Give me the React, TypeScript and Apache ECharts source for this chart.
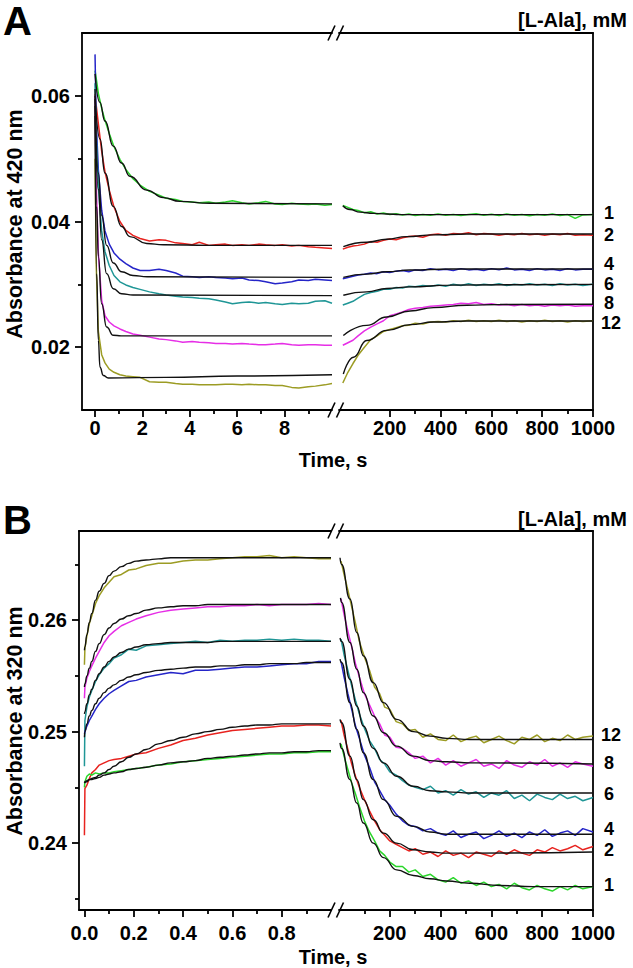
import React, { useEffect, useRef } from "react";
import * as echarts from "echarts";

// ---------- colours ----------
const C_GREEN = "#2bd62b";
const C_RED = "#e8231f";
const C_BLUE = "#2525c8";
const C_TEAL = "#1f9696";
const C_MAG = "#e62ee6";
const C_OLIVE = "#9c9c24";
const C_FIT = "#111111";

// ---------- panel A, left segment (0–10 s) ----------
const tAL = [0, 0.05, 0.14, 0.28, 0.42, 0.6, 0.8, 1.05, 1.3, 1.6, 1.9, 2.3, 2.7, 3.0, 3.4, 3.7, 4.1, 4.4, 4.8, 5.1, 5.5, 5.8, 6.2, 6.5, 6.9, 7.2, 7.6, 7.9, 8.3, 8.6, 9.0, 9.3, 9.7, 10.0];
const aL_green = [0.064, 0.0628, 0.0604, 0.058, 0.0561, 0.054, 0.0519, 0.0499, 0.0483, 0.0468, 0.0458, 0.0448, 0.0442, 0.0437, 0.0435, 0.0432, 0.0431, 0.043, 0.0431, 0.0429, 0.0431, 0.0433, 0.043, 0.0428, 0.043, 0.0432, 0.0428, 0.0427, 0.0429, 0.0428, 0.0427, 0.0428, 0.0426, 0.0427];
const aL_red = [0.0603, 0.0585, 0.0556, 0.0512, 0.0479, 0.045, 0.0423, 0.04, 0.0386, 0.0378, 0.0373, 0.0369, 0.0371, 0.037, 0.0366, 0.0365, 0.0363, 0.0367, 0.0362, 0.0363, 0.0364, 0.0362, 0.0363, 0.0362, 0.0364, 0.0363, 0.0362, 0.0363, 0.0361, 0.0362, 0.036, 0.0359, 0.0358, 0.0357];
const aL_blue = [0.0666, 0.056, 0.0482, 0.0418, 0.0385, 0.0364, 0.035, 0.034, 0.0333, 0.0326, 0.0322, 0.0322, 0.0324, 0.0322, 0.0318, 0.0313, 0.0312, 0.0311, 0.0312, 0.0311, 0.031, 0.0309, 0.031, 0.0307, 0.0306, 0.0304, 0.0301, 0.0302, 0.0304, 0.0307, 0.0306, 0.0308, 0.0307, 0.0306];
const aL_teal = [0.062, 0.054, 0.0455, 0.0385, 0.0352, 0.033, 0.0314, 0.0304, 0.0299, 0.0295, 0.0292, 0.0288, 0.0285, 0.0283, 0.0281, 0.028, 0.0279, 0.0278, 0.0277, 0.0275, 0.0272, 0.0269, 0.0271, 0.0272, 0.027, 0.0271, 0.0269, 0.0268, 0.027, 0.0269, 0.027, 0.0273, 0.0274, 0.027];
const aL_mag = [0.06, 0.046, 0.035, 0.0275, 0.025, 0.024, 0.0234, 0.0229, 0.0225, 0.0221, 0.0219, 0.0216, 0.0213, 0.0212, 0.021, 0.0208, 0.0209, 0.0208, 0.0207, 0.0206, 0.0206, 0.0205, 0.0206, 0.0205, 0.0204, 0.0204, 0.0205, 0.0206, 0.0204, 0.0203, 0.0204, 0.0204, 0.0203, 0.0203];
const aL_olive = [0.05, 0.033, 0.0225, 0.0188, 0.0175, 0.0165, 0.016, 0.0156, 0.0154, 0.0153, 0.0152, 0.0145, 0.0144, 0.0144, 0.0142, 0.0141, 0.0141, 0.014, 0.014, 0.014, 0.0141, 0.0141, 0.014, 0.0141, 0.014, 0.014, 0.0139, 0.0139, 0.0136, 0.0135, 0.0137, 0.0138, 0.014, 0.0142];

const fitAL_green = [[0, 0.0635], [0.2, 0.059], [0.42, 0.056], [0.77, 0.052], [1.12, 0.0493], [1.47, 0.0472], [2.18, 0.045], [2.88, 0.0438], [3.58, 0.0432], [4.84, 0.0429], [10, 0.0428]];
const fitAL_red = [[0, 0.06], [0.21, 0.0531], [0.42, 0.0477], [0.77, 0.0424], [1.12, 0.0392], [1.47, 0.0376], [2.18, 0.0365], [2.88, 0.0363], [4.84, 0.0362], [10, 0.0362]];
const fitAL_blue = [[0, 0.0611], [0.14, 0.0477], [0.28, 0.041], [0.49, 0.0362], [0.77, 0.0334], [1.12, 0.032], [1.6, 0.0314], [2.2, 0.0312], [10, 0.0311]];
const fitAL_teal = [[0, 0.0584], [0.14, 0.0451], [0.28, 0.0371], [0.49, 0.0317], [0.77, 0.0293], [1.12, 0.0285], [1.6, 0.0283], [10, 0.0282]];
const fitAL_mag = [[0, 0.0595], [0.07, 0.0424], [0.14, 0.0344], [0.28, 0.0269], [0.49, 0.0232], [0.77, 0.0219], [1.1, 0.0218], [10, 0.0218]];
const fitAL_olive = [[0, 0.0568], [0.07, 0.0317], [0.14, 0.0211], [0.21, 0.0168], [0.35, 0.0155], [0.56, 0.0151], [3, 0.0152], [6, 0.0154], [10, 0.0156]];

// ---------- panel A, right segment (s) ----------
const tAR = [15, 35, 55, 75, 100, 125, 150, 175, 200, 225, 250, 275, 300, 330, 360, 390, 420, 450, 480, 510, 540, 570, 600, 630, 660, 690, 720, 750, 780, 810, 840, 870, 900, 930, 960, 1000];
const aR_green = [0.04255, 0.04225, 0.0419, 0.04175, 0.0414, 0.04155, 0.0412, 0.04135, 0.0411, 0.04125, 0.04105, 0.0412, 0.04095, 0.0411, 0.041, 0.04118, 0.04098, 0.04112, 0.04095, 0.0411, 0.04122, 0.041, 0.04115, 0.04095, 0.0412, 0.041, 0.04112, 0.04092, 0.0411, 0.04098, 0.04118, 0.04095, 0.0411, 0.0405, 0.04105, 0.0411];
const aR_red = [0.0356, 0.0359, 0.0361, 0.0362, 0.0364, 0.0368, 0.0367, 0.037, 0.0372, 0.0371, 0.0374, 0.0376, 0.0377, 0.0375, 0.0379, 0.038, 0.0378, 0.0381, 0.038, 0.0382, 0.0379, 0.0381, 0.038, 0.0378, 0.038, 0.0379, 0.0381, 0.0379, 0.038, 0.0378, 0.038, 0.0379, 0.0381, 0.0378, 0.0379, 0.0378];
const aR_blue = [0.0309, 0.0311, 0.0313, 0.0315, 0.0316, 0.0318, 0.0317, 0.032, 0.0319, 0.0321, 0.0322, 0.032, 0.0323, 0.0322, 0.0325, 0.0323, 0.0324, 0.0322, 0.0325, 0.0323, 0.0324, 0.0322, 0.0325, 0.0323, 0.0326, 0.0323, 0.0324, 0.0322, 0.0325, 0.0323, 0.0324, 0.0322, 0.0325, 0.0323, 0.0324, 0.0324];
const aR_teal = [0.0267, 0.027, 0.0273, 0.0278, 0.0284, 0.0287, 0.0289, 0.0292, 0.0292, 0.0295, 0.0294, 0.0297, 0.0296, 0.0298, 0.0297, 0.0299, 0.0297, 0.03, 0.0298, 0.0301, 0.0298, 0.03, 0.0299, 0.0301, 0.0298, 0.03, 0.0299, 0.0301, 0.0299, 0.03, 0.0298, 0.0301, 0.0299, 0.03, 0.0298, 0.03];
const aR_mag = [0.0203, 0.0207, 0.0211, 0.0218, 0.0226, 0.0232, 0.0237, 0.0242, 0.025, 0.0253, 0.0256, 0.026, 0.0262, 0.0263, 0.0265, 0.0266, 0.0267, 0.0268, 0.027, 0.0269, 0.0271, 0.0268, 0.0269, 0.0267, 0.0268, 0.0266, 0.0268, 0.0266, 0.0267, 0.0265, 0.0267, 0.0266, 0.0267, 0.0265, 0.0266, 0.0266];
const aR_olive = [0.0143, 0.016, 0.0174, 0.0187, 0.02, 0.0212, 0.0218, 0.0225, 0.0228, 0.0231, 0.0234, 0.0235, 0.0238, 0.0237, 0.024, 0.0241, 0.024, 0.0242, 0.0241, 0.0243, 0.0241, 0.0242, 0.0241, 0.0243, 0.0241, 0.0242, 0.024, 0.0242, 0.0241, 0.0243, 0.0241, 0.0242, 0.024, 0.0242, 0.0241, 0.0242];

const fitAR_green = [[15, 0.0425], [43, 0.0419], [83, 0.0415], [135, 0.0413], [188, 0.0412], [240, 0.0411], [1000, 0.0411]];
const fitAR_red = [[17, 0.036], [109, 0.0367], [188, 0.03718], [266, 0.0376], [372, 0.03787], [503, 0.038], [1000, 0.038]];
const fitAR_blue = [[17, 0.0311], [109, 0.03163], [188, 0.032], [280, 0.03227], [437, 0.03243], [1000, 0.03245]];
const fitAR_teal = [[17, 0.02827], [109, 0.0288], [188, 0.02934], [280, 0.0296], [437, 0.02987], [1000, 0.03]];
const fitAR_mag = [[17, 0.02187], [109, 0.02347], [188, 0.0248], [280, 0.02576], [372, 0.0263], [503, 0.02667], [634, 0.02678], [1000, 0.02683]];
const fitAR_olive = [[17, 0.01574], [57, 0.0184], [109, 0.02107], [188, 0.02267], [280, 0.02358], [372, 0.024], [503, 0.02416], [1000, 0.02416]];

// ---------- panel B, left segment (0–1 s) ----------
const tBL = [0, 0.002, 0.01, 0.02, 0.03, 0.045, 0.06, 0.08, 0.1, 0.12, 0.15, 0.18, 0.21, 0.25, 0.3, 0.35, 0.4, 0.45, 0.5, 0.55, 0.6, 0.65, 0.7, 0.75, 0.8, 0.85, 0.9, 0.95, 1.0];
const bL_olive = [0.256, 0.2575, 0.2586, 0.2597, 0.2604, 0.2615, 0.2622, 0.2629, 0.2634, 0.2639, 0.2641, 0.2645, 0.2646, 0.2649, 0.2651, 0.2651, 0.2653, 0.2654, 0.2654, 0.2655, 0.2656, 0.2657, 0.2657, 0.2658, 0.2656, 0.2657, 0.2656, 0.2655, 0.2655];
const bL_mag = [0.253, 0.254, 0.2548, 0.2554, 0.2559, 0.2566, 0.2572, 0.258, 0.2586, 0.259, 0.2595, 0.2598, 0.2601, 0.2604, 0.2607, 0.2609, 0.261, 0.2611, 0.2612, 0.2612, 0.2613, 0.2613, 0.2614, 0.2613, 0.2614, 0.2614, 0.2614, 0.2615, 0.2614];
const bL_teal = [0.2469, 0.251, 0.2522, 0.2531, 0.2537, 0.2545, 0.2551, 0.2557, 0.2561, 0.2566, 0.2569, 0.2574, 0.2573, 0.2577, 0.2578, 0.2579, 0.258, 0.2581, 0.258, 0.2582, 0.2581, 0.2582, 0.2582, 0.2583, 0.2582, 0.2583, 0.2582, 0.2582, 0.2581];
const bL_blue = [0.2498, 0.25, 0.2505, 0.251, 0.2514, 0.252, 0.2525, 0.253, 0.2534, 0.2537, 0.2541, 0.2545, 0.2546, 0.2549, 0.2551, 0.2553, 0.2552, 0.2555, 0.2555, 0.2556, 0.2557, 0.2558, 0.2558, 0.2559, 0.256, 0.2561, 0.2561, 0.2563, 0.2563];
const bL_red = [0.2407, 0.2449, 0.2452, 0.2458, 0.2463, 0.2466, 0.247, 0.2472, 0.2474, 0.2475, 0.2476, 0.2478, 0.248, 0.2481, 0.2485, 0.2488, 0.2492, 0.2494, 0.2497, 0.2499, 0.2501, 0.2502, 0.2503, 0.2504, 0.2505, 0.2505, 0.2506, 0.2506, 0.2505];
const bL_green = [0.245, 0.2455, 0.246, 0.2462, 0.2461, 0.2463, 0.2462, 0.2463, 0.2463, 0.2464, 0.2465, 0.2466, 0.2467, 0.2468, 0.247, 0.2471, 0.2473, 0.2474, 0.2475, 0.2476, 0.2477, 0.2478, 0.2479, 0.248, 0.248, 0.2481, 0.2481, 0.2482, 0.2482];

const fitBL_olive = [0.2573, 0.2576, 0.2587, 0.2598, 0.2606, 0.2618, 0.2626, 0.2633, 0.264, 0.2644, 0.2648, 0.2651, 0.2653, 0.2654, 0.2655, 0.2656, 0.2656, 0.2656, 0.2656, 0.2656, 0.2656, 0.2656, 0.2656, 0.2656, 0.2656, 0.2656, 0.2656, 0.2656, 0.2656];
const fitBL_mag = [0.254, 0.2543, 0.255, 0.2557, 0.2563, 0.2572, 0.2579, 0.2587, 0.2593, 0.2597, 0.2601, 0.2604, 0.2606, 0.2609, 0.2611, 0.2612, 0.2613, 0.2613, 0.2614, 0.2614, 0.2614, 0.2614, 0.2614, 0.2614, 0.2614, 0.2614, 0.2614, 0.2614, 0.2614];
const fitBL_teal = [0.2516, 0.2518, 0.2525, 0.2533, 0.2538, 0.2546, 0.2552, 0.2558, 0.2563, 0.2567, 0.2571, 0.2574, 0.2576, 0.2578, 0.2579, 0.258, 0.258, 0.258, 0.258, 0.2581, 0.2581, 0.2581, 0.2581, 0.2581, 0.2581, 0.2581, 0.2581, 0.2581, 0.2581];
const fitBL_blue = [0.2495, 0.25, 0.2507, 0.2514, 0.2519, 0.2525, 0.253, 0.2535, 0.2539, 0.2542, 0.2546, 0.2549, 0.2551, 0.2553, 0.2555, 0.2556, 0.2557, 0.2558, 0.2558, 0.2559, 0.2559, 0.256, 0.256, 0.2561, 0.2561, 0.2561, 0.2562, 0.2562, 0.2562];
const fitBL_red = [0.2454, 0.2454, 0.2455, 0.2457, 0.2458, 0.2459, 0.2461, 0.2463, 0.2466, 0.2469, 0.2473, 0.2477, 0.248, 0.2484, 0.2489, 0.2492, 0.2495, 0.2498, 0.25, 0.2502, 0.2504, 0.2505, 0.2506, 0.2506, 0.2507, 0.2507, 0.2507, 0.2507, 0.2507];
const fitBL_green = [0.2454, 0.2455, 0.2456, 0.2457, 0.2457, 0.2458, 0.2459, 0.2461, 0.2462, 0.2463, 0.2464, 0.2466, 0.2467, 0.2468, 0.247, 0.2472, 0.2473, 0.2474, 0.2476, 0.2477, 0.2478, 0.2479, 0.248, 0.2481, 0.2481, 0.2482, 0.2482, 0.2483, 0.2483];

// ---------- panel B, right segment (s) ----------
const tBR = [8, 20, 35, 50, 65, 80, 100, 120, 140, 160, 180, 200, 225, 250, 275, 300, 330, 360, 390, 420, 450, 480, 510, 540, 570, 600, 630, 660, 690, 720, 750, 780, 810, 840, 870, 900, 930, 960, 1000];
const bR_olive = [0.2653, 0.2641, 0.2627, 0.2612, 0.2597, 0.2581, 0.2567, 0.2555, 0.254, 0.2534, 0.2522, 0.252, 0.2509, 0.2507, 0.2501, 0.2502, 0.2495, 0.2498, 0.2493, 0.2492, 0.2497, 0.2491, 0.2494, 0.2496, 0.249, 0.2493, 0.2496, 0.2492, 0.2489, 0.2495, 0.2493, 0.2497, 0.2491, 0.2494, 0.2492, 0.2497, 0.2493, 0.2495, 0.2496];
const bR_mag = [0.2619, 0.2605, 0.259, 0.2576, 0.2561, 0.2549, 0.2534, 0.2524, 0.2514, 0.2507, 0.2497, 0.2495, 0.2486, 0.2485, 0.2481, 0.2476, 0.2478, 0.2472, 0.2476, 0.247, 0.2474, 0.2469, 0.2472, 0.2475, 0.2469, 0.2471, 0.2467, 0.2474, 0.247, 0.2468, 0.2473, 0.247, 0.2475, 0.2469, 0.2472, 0.2468, 0.2473, 0.2471, 0.2469];
const bR_teal = [0.2583, 0.2569, 0.2555, 0.2541, 0.2528, 0.2516, 0.2503, 0.2492, 0.2485, 0.2475, 0.2471, 0.2464, 0.2461, 0.2456, 0.2452, 0.245, 0.2448, 0.2451, 0.2445, 0.2447, 0.2443, 0.2448, 0.2444, 0.2446, 0.2441, 0.2445, 0.2443, 0.2447, 0.244, 0.2443, 0.2438, 0.2444, 0.2441, 0.2439, 0.2444, 0.244, 0.2442, 0.2438, 0.2441];
const bR_blue = [0.2563, 0.2549, 0.2534, 0.252, 0.2505, 0.2494, 0.2479, 0.2468, 0.2455, 0.2447, 0.2439, 0.2434, 0.2426, 0.242, 0.2416, 0.2415, 0.2411, 0.2413, 0.2409, 0.2407, 0.2411, 0.2405, 0.2408, 0.241, 0.2404, 0.2407, 0.2411, 0.2406, 0.2409, 0.2405, 0.241, 0.2407, 0.2412, 0.2406, 0.2409, 0.2411, 0.2407, 0.2413, 0.241];
const bR_red = [0.251, 0.2497, 0.2484, 0.2471, 0.246, 0.245, 0.2439, 0.2429, 0.242, 0.2412, 0.2407, 0.2402, 0.2399, 0.2396, 0.2393, 0.2395, 0.239, 0.2392, 0.2388, 0.2393, 0.2389, 0.2391, 0.2387, 0.2392, 0.239, 0.2388, 0.2393, 0.239, 0.2394, 0.2391, 0.2389, 0.2394, 0.2392, 0.2396, 0.2393, 0.2395, 0.2398, 0.2394, 0.2397];
const bR_green = [0.2489, 0.2478, 0.2466, 0.2454, 0.2444, 0.2433, 0.242, 0.241, 0.2402, 0.2393, 0.2389, 0.2383, 0.2379, 0.2379, 0.2374, 0.2376, 0.237, 0.2372, 0.2367, 0.2365, 0.2369, 0.2364, 0.2366, 0.2362, 0.2365, 0.2361, 0.2363, 0.2359, 0.2364, 0.236, 0.2358, 0.2362, 0.2359, 0.2357, 0.2361, 0.2358, 0.2362, 0.2359, 0.2361];

const fitBR_olive = [[4, 0.2656], [10, 0.265], [43, 0.2619], [70, 0.2589], [96, 0.2568], [135, 0.2544], [175, 0.2526], [227, 0.2511], [293, 0.25], [358, 0.2496], [424, 0.2494], [515, 0.2493], [1000, 0.2493]];
const fitBR_mag = [[6, 0.262], [10, 0.2616], [43, 0.258], [70, 0.2556], [96, 0.2535], [135, 0.2514], [175, 0.2499], [227, 0.2487], [293, 0.2478], [358, 0.2474], [424, 0.2473], [515, 0.2472], [1000, 0.2471]];
const fitBR_teal = [[4, 0.2584], [10, 0.2581], [43, 0.2547], [70, 0.2523], [96, 0.2505], [135, 0.2485], [175, 0.2472], [227, 0.246], [293, 0.2451], [358, 0.2447], [424, 0.2446], [515, 0.2445], [1000, 0.2445]];
const fitBR_blue = [[4, 0.2565], [10, 0.2562], [43, 0.2526], [70, 0.2502], [96, 0.2481], [135, 0.2457], [175, 0.2439], [227, 0.2424], [293, 0.2415], [358, 0.241], [424, 0.2408], [515, 0.2408], [1000, 0.2408]];
const fitBR_red = [[4, 0.2511], [10, 0.2508], [43, 0.2478], [70, 0.2457], [96, 0.2439], [135, 0.2421], [175, 0.2409], [227, 0.24], [293, 0.2394], [358, 0.2392], [424, 0.2391], [515, 0.2391], [1000, 0.2392]];
const fitBR_green = [[4, 0.249], [10, 0.2485], [43, 0.2457], [70, 0.2436], [96, 0.2418], [135, 0.24], [175, 0.2387], [227, 0.2376], [293, 0.2371], [358, 0.2368], [424, 0.2366], [515, 0.2364], [634, 0.2362], [765, 0.2361], [1000, 0.2361]];

// ---------- ticks / labels ----------
const tickAL = [0, 2, 4, 6, 8];
const minorAL = [1, 3, 5, 7, 9];
const tickBL = [0, 0.2, 0.4, 0.6, 0.8];
const minorBL = [0.1, 0.3, 0.5, 0.7, 0.9];
const tickR = [200, 400, 600, 800, 1000];
const minorR = [100, 300, 500, 700, 900];
const tickAY = [0.02, 0.04, 0.06];
const minorAY = [0.03, 0.05];
const tickBY = [0.24, 0.25, 0.26];
const minorBY = [0.235, 0.245, 0.255, 0.265];
const concA = ["1", "2", "4", "6", "8", "12"];
const concAY = [212.7, 235, 264, 284, 302.5, 323];
const concB = ["12", "8", "6", "4", "2", "1"];
const concBY = [735, 762.7, 794, 828.5, 850, 885];

// ---------- layout ----------
const FONT = "'Liberation Sans', Arial, Helvetica, sans-serif";
const GA_L = { left: 82, top: 33, width: 250, height: 377 };
const GA_R = { left: 339, top: 33, width: 254, height: 377 };
const GB_L = { left: 79, top: 531, width: 252, height: 379 };
const GB_R = { left: 339, top: 531, width: 254, height: 379 };

const AXC = "#000";
const AXW = 1.8;
const LBL = 20;

const zip = (ts: number[], vs: number[]) => ts.map((t, i) => [t, vs[i]]);

function xMain(gridIndex: number, min: number, max: number, ticks: number[], fmt: (v: number) => string, margin: number) {
  return {
    type: "value", gridIndex, position: "bottom", min, max,
    axisLine: { show: true, onZero: false, lineStyle: { color: AXC, width: AXW } },
    axisTick: { show: true, inside: false, length: 7, customValues: ticks, lineStyle: { color: AXC, width: AXW } },
    axisLabel: { show: true, customValues: ticks, formatter: (v: number) => fmt(v), margin, color: "#000", fontFamily: FONT, fontWeight: "bold", fontSize: LBL },
    splitLine: { show: false },
  };
}
function xMinor(gridIndex: number, min: number, max: number, ticks: number[]) {
  return {
    type: "value", gridIndex, position: "bottom", min, max,
    axisLine: { show: false, onZero: false },
    axisTick: { show: true, inside: false, length: 4, customValues: ticks, lineStyle: { color: AXC, width: AXW } },
    axisLabel: { show: false },
    splitLine: { show: false },
  };
}
function xTop(gridIndex: number, min: number, max: number) {
  return {
    type: "value", gridIndex, position: "top", min, max,
    axisLine: { show: true, onZero: false, lineStyle: { color: AXC, width: AXW } },
    axisTick: { show: false }, axisLabel: { show: false }, splitLine: { show: false },
  };
}
function yMain(gridIndex: number, min: number, max: number, ticks: number[], margin: number) {
  return {
    type: "value", gridIndex, position: "left", min, max,
    axisLine: { show: true, onZero: false, lineStyle: { color: AXC, width: AXW } },
    axisTick: { show: true, inside: false, length: 7, customValues: ticks, lineStyle: { color: AXC, width: AXW } },
    axisLabel: { show: true, customValues: ticks, formatter: (v: number) => v.toFixed(2), margin, color: "#000", fontFamily: FONT, fontWeight: "bold", fontSize: LBL },
    splitLine: { show: false },
  };
}
function yMinor(gridIndex: number, min: number, max: number, ticks: number[]) {
  return {
    type: "value", gridIndex, position: "left", min, max,
    axisLine: { show: false, onZero: false },
    axisTick: { show: true, inside: false, length: 4, customValues: ticks, lineStyle: { color: AXC, width: AXW } },
    axisLabel: { show: false }, splitLine: { show: false },
  };
}
function yRight(gridIndex: number, min: number, max: number) {
  return {
    type: "value", gridIndex, position: "right", min, max,
    axisLine: { show: true, onZero: false, lineStyle: { color: AXC, width: AXW } },
    axisTick: { show: false }, axisLabel: { show: false }, splitLine: { show: false },
  };
}

function line(xi: number, yi: number, data: number[][], color: string, width: number, smooth: boolean) {
  return {
    type: "line", xAxisIndex: xi, yAxisIndex: yi, data,
    showSymbol: false, symbol: "none", smooth, smoothMonotone: smooth ? "x" : undefined,
    lineStyle: { color, width }, itemStyle: { color },
    silent: true, animation: false, emphasis: { disabled: true }, clip: true,
  };
}

function breakMarks(yTop: number, yBot: number) {
  const out: any[] = [];
  [yTop, yBot].forEach((y) => {
    [331.5, 340].forEach((cx) => {
      out.push({ type: "line", shape: { x1: cx - 3.5, y1: y + 7.5, x2: cx + 3.5, y2: y - 7.5 }, style: { stroke: "#000", lineWidth: 1.6 } });
    });
  });
  return out;
}

function textEl(text: string, x: number, y: number, size: number, align = "left", rotation = 0, lineHeight?: number) {
  return {
    type: "text", x, y, rotation,
    style: { text, fill: "#000", font: `bold ${size}px ${FONT}`, align, verticalAlign: "middle", lineHeight: lineHeight ?? size },
  };
}

export default function App() {
  const ref = useRef<HTMLDivElement>(null);
  useEffect(() => {
    document.body.style.margin = "0";
    if (!ref.current) return;
    const chart = echarts.init(ref.current, null, { renderer: "svg" });

    const yAmin = 0.01, yAmax = 0.07, yBmin = 0.234, yBmax = 0.268;
    const xALmin = -0.55, xALmax = 10, xBLmin = -0.022, xBLmax = 1.0, xRmin = 0, xRmax = 1000;

    const xAxis = [
      xMain(0, xALmin, xALmax, tickAL, (v) => String(v), 8),
      xMinor(0, xALmin, xALmax, minorAL),
      xTop(0, xALmin, xALmax),
      xMain(1, xRmin, xRmax, tickR, (v) => String(v), 8),
      xMinor(1, xRmin, xRmax, minorR),
      xTop(1, xRmin, xRmax),
      xMain(2, xBLmin, xBLmax, tickBL, (v) => v.toFixed(1), 13),
      xMinor(2, xBLmin, xBLmax, minorBL),
      xTop(2, xBLmin, xBLmax),
      xMain(3, xRmin, xRmax, tickR, (v) => String(v), 13),
      xMinor(3, xRmin, xRmax, minorR),
      xTop(3, xRmin, xRmax),
    ];
    const yAxis = [
      yMain(0, yAmin, yAmax, tickAY, 12),
      yMinor(0, yAmin, yAmax, minorAY),
      yRight(1, yAmin, yAmax),
      yMain(2, yBmin, yBmax, tickBY, 12),
      yMinor(2, yBmin, yBmax, minorBY),
      yRight(3, yBmin, yBmax),
    ];

    const dataW = 1.5, fitW = 1.4;
    const series: any[] = [];
    // A left
    [[aL_green, C_GREEN], [aL_red, C_RED], [aL_blue, C_BLUE], [aL_teal, C_TEAL], [aL_mag, C_MAG], [aL_olive, C_OLIVE]].forEach(([v, c]: any) => series.push(line(0, 0, zip(tAL, v), c, dataW, false)));
    [fitAL_green, fitAL_red, fitAL_blue, fitAL_teal, fitAL_mag, fitAL_olive].forEach((f) => series.push(line(0, 0, f, C_FIT, fitW, true)));
    // A right
    [[aR_green, C_GREEN], [aR_red, C_RED], [aR_blue, C_BLUE], [aR_teal, C_TEAL], [aR_mag, C_MAG], [aR_olive, C_OLIVE]].forEach(([v, c]: any) => series.push(line(3, 2, zip(tAR, v), c, dataW, false)));
    [fitAR_green, fitAR_red, fitAR_blue, fitAR_teal, fitAR_mag, fitAR_olive].forEach((f) => series.push(line(3, 2, f, C_FIT, fitW, true)));
    // B left
    [[bL_olive, C_OLIVE], [bL_mag, C_MAG], [bL_teal, C_TEAL], [bL_blue, C_BLUE], [bL_red, C_RED], [bL_green, C_GREEN]].forEach(([v, c]: any) => series.push(line(6, 3, zip(tBL, v), c, dataW, false)));
    [fitBL_olive, fitBL_mag, fitBL_teal, fitBL_blue, fitBL_red, fitBL_green].forEach((f) => series.push(line(6, 3, zip(tBL, f), C_FIT, fitW, true)));
    // B right
    [[bR_olive, C_OLIVE], [bR_mag, C_MAG], [bR_teal, C_TEAL], [bR_blue, C_BLUE], [bR_red, C_RED], [bR_green, C_GREEN]].forEach(([v, c]: any) => series.push(line(9, 5, zip(tBR, v), c, dataW, false)));
    [fitBR_olive, fitBR_mag, fitBR_teal, fitBR_blue, fitBR_red, fitBR_green].forEach((f) => series.push(line(9, 5, f, C_FIT, fitW, true)));

    const graphic: any[] = [
      textEl("A", 3, 21, 40),
      textEl("B", 3, 520, 40),
      textEl("[L-Ala], mM", 518, 19.5, 20),
      textEl("[L-Ala], mM", 518, 518.5, 20),
      textEl("Time, s", 333, 460, 20, "center"),
      textEl("Time, s", 333, 957, 20, "center"),
      textEl("Absorbance at 420 nm", 15, 224, 21.5, "center", Math.PI / 2),
      textEl("Absorbance at 320 nm", 15, 721, 21.5, "center", Math.PI / 2),
      ...concA.map((s, i) => textEl(s, s.length > 1 ? 601 : 604, concAY[i], 18, "left", 0, 13)),
      ...concB.map((s, i) => textEl(s, s.length > 1 ? 601 : 604, concBY[i], 18, "left", 0, 13)),
      ...breakMarks(GA_L.top, GA_L.top + GA_L.height),
      ...breakMarks(GB_L.top, GB_L.top + GB_L.height),
    ];

    chart.setOption({
      animation: false,
      backgroundColor: "#ffffff",
      grid: [
        { ...GA_L, containLabel: false, show: false },
        { ...GA_R, containLabel: false, show: false },
        { ...GB_L, containLabel: false, show: false },
        { ...GB_R, containLabel: false, show: false },
      ],
      xAxis,
      yAxis,
      series,
      graphic,
    });
    return () => chart.dispose();
  }, []);
  return <div ref={ref} style={{ width: 633, height: 968 }} />;
}
